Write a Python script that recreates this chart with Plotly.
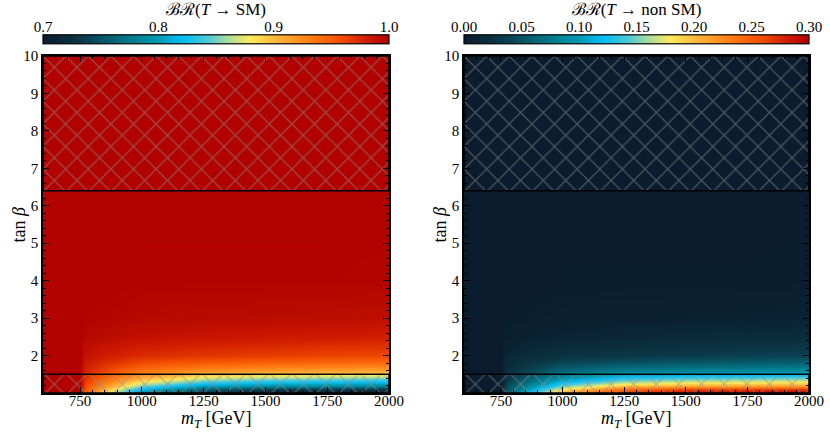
import plotly.graph_objects as go

# ---- data ----
mT = [600, 750, 770, 850, 1000, 1250, 1500, 1750, 2000]
tanb = [1.0, 1.1, 1.2, 1.3, 1.4, 1.5, 1.6, 1.8, 2.0, 2.5, 3.0, 4.0, 6.0, 10.0]

br_sm = [
    [0.999, 0.998, 0.950, 0.885, 0.790, 0.725, 0.705, 0.700, 0.697],
    [0.999, 0.998, 0.955, 0.905, 0.820, 0.760, 0.740, 0.736, 0.733],
    [0.999, 0.998, 0.960, 0.920, 0.850, 0.800, 0.790, 0.786, 0.783],
    [0.999, 0.998, 0.965, 0.935, 0.880, 0.840, 0.828, 0.824, 0.820],
    [0.999, 0.998, 0.970, 0.945, 0.905, 0.870, 0.860, 0.856, 0.852],
    [0.999, 0.998, 0.975, 0.955, 0.925, 0.900, 0.893, 0.890, 0.887],
    [0.999, 0.998, 0.978, 0.962, 0.938, 0.922, 0.916, 0.913, 0.910],
    [0.999, 0.999, 0.983, 0.972, 0.958, 0.950, 0.946, 0.943, 0.940],
    [0.999, 0.999, 0.988, 0.981, 0.973, 0.968, 0.965, 0.962, 0.960],
    [0.999, 0.999, 0.995, 0.993, 0.989, 0.986, 0.984, 0.982, 0.980],
    [0.999, 0.999, 0.998, 0.997, 0.995, 0.994, 0.993, 0.992, 0.991],
    [0.999, 0.999, 0.999, 0.999, 0.998, 0.998, 0.998, 0.998, 0.997],
    [0.999, 0.999, 0.999, 0.999, 0.999, 0.999, 0.999, 0.999, 0.999],
    [0.999, 0.999, 0.999, 0.999, 0.999, 0.999, 0.999, 0.999, 0.999],
]

br_nonsm = [
    [0.001, 0.002, 0.050, 0.115, 0.210, 0.275, 0.295, 0.300, 0.303],
    [0.001, 0.002, 0.045, 0.095, 0.180, 0.240, 0.260, 0.264, 0.267],
    [0.001, 0.002, 0.040, 0.080, 0.150, 0.200, 0.210, 0.214, 0.217],
    [0.001, 0.002, 0.035, 0.065, 0.120, 0.160, 0.172, 0.176, 0.180],
    [0.001, 0.002, 0.030, 0.055, 0.095, 0.130, 0.140, 0.144, 0.148],
    [0.001, 0.002, 0.025, 0.045, 0.075, 0.100, 0.107, 0.110, 0.113],
    [0.001, 0.002, 0.022, 0.038, 0.062, 0.078, 0.084, 0.087, 0.090],
    [0.001, 0.001, 0.017, 0.028, 0.042, 0.050, 0.054, 0.057, 0.060],
    [0.001, 0.001, 0.012, 0.019, 0.027, 0.032, 0.035, 0.038, 0.040],
    [0.001, 0.001, 0.005, 0.007, 0.011, 0.014, 0.016, 0.018, 0.020],
    [0.001, 0.001, 0.002, 0.003, 0.005, 0.006, 0.007, 0.008, 0.009],
    [0.001, 0.001, 0.001, 0.001, 0.002, 0.002, 0.002, 0.002, 0.003],
    [0.001, 0.001, 0.001, 0.001, 0.001, 0.001, 0.001, 0.001, 0.001],
    [0.001, 0.001, 0.001, 0.001, 0.001, 0.001, 0.001, 0.001, 0.001],
]

# excluded (hatched) tan(beta) bands
excl_high = [6.4, 10.0]
excl_low = [1.0, 1.5]
mT_range = [600, 2000]
tanb_range = [1.0, 10.0]

sm_range = [0.7, 1.0]
nonsm_range = [0.0, 0.3]
sm_ticks = [0.7, 0.8, 0.9, 1.0]
nonsm_ticks = [0.00, 0.05, 0.10, 0.15, 0.20, 0.25, 0.30]
x_ticks = [750, 1000, 1250, 1500, 1750, 2000]
y_ticks = [2, 3, 4, 5, 6, 7, 8, 9, 10]

# ---- style / layout ----
FONT = "Liberation Serif"
cscale = [
    [0.00, "#0a1b2c"],
    [0.10, "#0b3545"],
    [0.25, "#02798a"],
    [0.33, "#0099b2"],
    [0.40, "#00bdf2"],
    [0.48, "#52c9d6"],
    [0.53, "#a2dca0"],
    [0.60, "#fde95a"],
    [0.68, "#ffb23a"],
    [0.78, "#ff7a12"],
    [0.86, "#f24e00"],
    [0.93, "#d32000"],
    [1.00, "#b00000"],
]

W, H = 830, 432
ml, mr, mt, mb = 43, 21, 36, 39
pw = W - ml - mr
ph = H - mt - mb
bottom_px = H - mb
left_dom = [0, (389 - ml) / pw]
right_dom = [(464 - ml) / pw, 1]
plot_ydom = [0, (bottom_px - 56) / ph]
cb_ydom = [(bottom_px - 45) / ph, 1.0]
cb_thick = 45 - mt

fig = go.Figure()

panels = [
    (br_sm, sm_range, sm_ticks, "{:.1f}", "ℬℛ(<i>T</i> → SM)", "x", "y", "x3", "y3", left_dom),
    (br_nonsm, nonsm_range, nonsm_ticks, "{:.2f}", "ℬℛ(<i>T</i> → non SM)", "x2", "y2", "x4", "y4", right_dom),
]

annotations = []
layout_axes = {}
for z, zr, majors, fmt, title, xa, ya, cxa, cya, dom in panels:
    fig.add_trace(go.Heatmap(
        x=mT, y=tanb, z=z, zmin=zr[0], zmax=zr[1], zsmooth="best",
        colorscale=cscale, xaxis=xa, yaxis=ya, hoverinfo="skip",
        colorbar=dict(
            orientation="h", x=(dom[0] + dom[1]) / 2, xanchor="center",
            y=cb_ydom[0], yanchor="bottom", len=dom[1] - dom[0], lenmode="fraction",
            thickness=cb_thick, outlinecolor="black", outlinewidth=1.2,
            showticklabels=False, ticks="", title=dict(text=""),
            xpad=0, ypad=0,
        ),
    ))
    for band in (excl_high, excl_low):
        fig.add_trace(go.Scatter(
            x=[mT_range[0], mT_range[1], mT_range[1], mT_range[0], mT_range[0]],
            y=[band[0], band[0], band[1], band[1], band[0]],
            mode="lines", fill="toself", fillcolor="rgba(0,0,0,0)",
            fillpattern=dict(shape="x", size=16, solidity=0.15,
                             fgcolor="rgba(140,140,140,1)", bgcolor="rgba(0,0,0,0)",
                             fillmode="overlay"),
            line=dict(color="black", width=1.5),
            xaxis=xa, yaxis=ya, showlegend=False, hoverinfo="skip",
        ))
    # empty trace so the colour-bar tick axis exists
    fig.add_trace(go.Scatter(x=[], y=[], xaxis=cxa, yaxis=cya, showlegend=False,
                             hoverinfo="skip"))
    n = cxa[1:]
    layout_axes["xaxis" + n] = dict(
        domain=dom, range=zr, anchor=cya, side="top",
        tickvals=majors, ticktext=[fmt.format(v) for v in majors],
        ticks="inside", ticklen=5, tickwidth=1, tickcolor="black",
        minor=dict(dtick=0.01, ticks="inside", ticklen=2.5, tickcolor="black", tickwidth=1),
        showline=False, showgrid=False, zeroline=False, tickangle=0,
        tickfont=dict(family=FONT, size=15, color="black"),
        title=dict(text=title, standoff=1, font=dict(family=FONT, size=17, color="black")),
    )
    layout_axes["yaxis" + n] = dict(domain=cb_ydom, anchor=cxa, visible=False, range=[0, 1])

    cx = (dom[0] + dom[1]) / 2
    annotations.append(dict(
        text="<i>m</i><sub><i>T</i></sub> [GeV]", xref="paper", yref="paper",
        x=cx, y=-(432 - bottom_px) / ph, xanchor="center", yanchor="bottom",
        borderpad=0, showarrow=False, font=dict(family=FONT, size=18, color="black")))
    annotations.append(dict(
        text="tan <i>β</i>", xref="paper", yref="paper",
        x=dom[0] - 25 / pw, y=plot_ydom[1] / 2, xanchor="center", yanchor="middle",
        textangle=-90, showarrow=False, font=dict(family=FONT, size=18, color="black")))

axis_common = dict(
    showline=True, linecolor="black", linewidth=1.5, mirror="ticks",
    ticks="inside", ticklen=6, tickwidth=1, tickcolor="black",
    showgrid=False, zeroline=False, tickangle=0,
    tickfont=dict(family=FONT, size=15, color="black"),
)
x_common = dict(ticklabelstandoff=-7, **axis_common)

fig.update_layout(
    width=W, height=H,
    margin=dict(l=ml, r=mr, t=mt, b=mb, autoexpand=False),
    paper_bgcolor="white", plot_bgcolor="white",
    showlegend=False,
    annotations=annotations,
    xaxis=dict(domain=left_dom, range=mT_range, tickvals=x_ticks,
               minor=dict(dtick=50, ticks="inside", ticklen=3, tickcolor="black"),
               anchor="y", **x_common),
    yaxis=dict(domain=plot_ydom, range=tanb_range, tickvals=y_ticks,
               minor=dict(dtick=0.2, ticks="inside", ticklen=3, tickcolor="black"),
               anchor="x", **axis_common),
    xaxis2=dict(domain=right_dom, range=mT_range, tickvals=x_ticks,
                minor=dict(dtick=50, ticks="inside", ticklen=3, tickcolor="black"),
                anchor="y2", **x_common),
    yaxis2=dict(domain=plot_ydom, range=tanb_range, tickvals=y_ticks,
                minor=dict(dtick=0.2, ticks="inside", ticklen=3, tickcolor="black"),
                anchor="x2", **axis_common),
    **layout_axes,
)

fig.write_html(
    "out.html",
    config={"displayModeBar": False},
    post_script="document.body.style.margin='0';document.body.style.overflow='hidden';",
)
